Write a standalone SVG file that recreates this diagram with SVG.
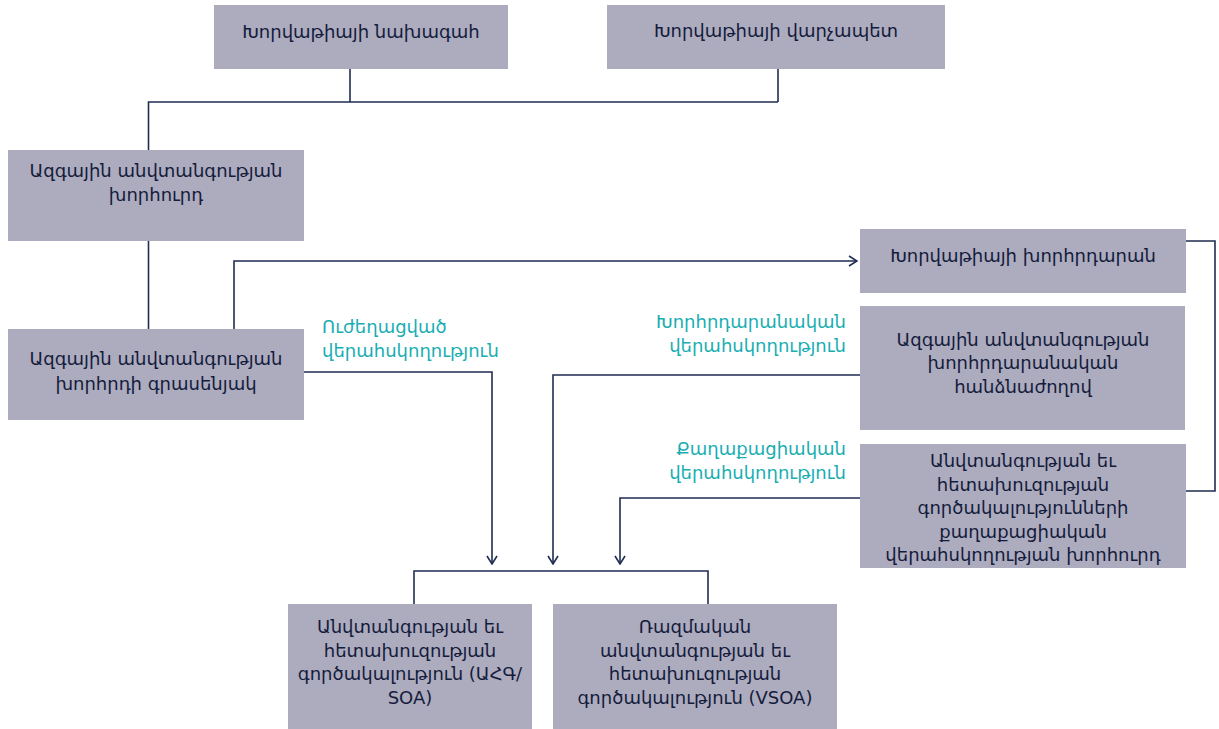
<svg xmlns="http://www.w3.org/2000/svg" width="1219" height="729" viewBox="0 0 1219 729">
<defs>
<style>
.box{fill:#adabbe}
.t{font-family:"DejaVu Sans","Noto Sans",sans-serif;font-size:18px;fill:#141c3c;text-anchor:middle}
.lbl{font-family:"DejaVu Sans","Noto Sans",sans-serif;font-size:18px;fill:#19aeb2}
.c{fill:none;stroke:#1f2d52;stroke-width:1.6}
</style>
<marker id="arr" viewBox="0 0 10 12" refX="9" refY="6" markerWidth="10" markerHeight="12" markerUnits="userSpaceOnUse" orient="auto">
<path d="M1,1 L9,6 L1,11" fill="none" stroke="#1f2d52" stroke-width="1.6"/>
</marker>
</defs>
<rect width="1219" height="729" fill="#ffffff"/>
<g id="connectors">
<path class="c" d="M350,69 V102"/>
<path class="c" d="M778,69 V102"/>
<path class="c" d="M148.5,150 V102 H778"/>
<path class="c" d="M148.5,241 V329"/>
<path class="c" d="M234,329 V261 H857" marker-end="url(#arr)"/>
<path class="c" d="M304,372 H492 V564" marker-end="url(#arr)"/>
<path class="c" d="M860,375 H553 V564" marker-end="url(#arr)"/>
<path class="c" d="M860,498 H620 V564" marker-end="url(#arr)"/>
<path class="c" d="M414,604 V571 H708 V604"/>
<path class="c" d="M1186,241 H1215 V491 H1186"/>
</g>
<g id="n1"><rect class="box" x="214" y="5" width="294" height="64"/><text class="t" x="361" y="38">Խորվաթիայի նախագահ</text></g>
<g id="n2"><rect class="box" x="607" y="5" width="338" height="64"/><text class="t" x="776" y="37">Խորվաթիայի վարչապետ</text></g>
<g id="n3"><rect class="box" x="8" y="150" width="296" height="91"/><text class="t" x="156" y="177">Ազգային անվտանգության</text><text class="t" x="156" y="201">խորհուրդ</text></g>
<g id="n4"><rect class="box" x="8" y="329" width="296" height="91"/><text class="t" x="156" y="365">Ազգային անվտանգության</text><text class="t" x="156" y="390">խորհրդի գրասենյակ</text></g>
<g id="n5"><rect class="box" x="860" y="229" width="326" height="64"/><text class="t" x="1023" y="262">Խորվաթիայի խորհրդարան</text></g>
<g id="n6"><rect class="box" x="860" y="306" width="325" height="124"/><text class="t" x="1023" y="346">Ազգային անվտանգության</text><text class="t" x="1023" y="369">խորհրդարանական</text><text class="t" x="1023" y="393">հանձնաժողով</text></g>
<g id="n7"><rect class="box" x="860" y="444" width="326" height="124"/><text class="t" x="1023" y="467">Անվտանգության եւ</text><text class="t" x="1023" y="491">հետախուզության</text><text class="t" x="1023" y="514">գործակալությունների</text><text class="t" x="1023" y="538">քաղաքացիական</text><text class="t" x="1023" y="561">վերահսկողության խորհուրդ</text></g>
<g id="n8"><rect class="box" x="288" y="604" width="244" height="125"/><text class="t" x="410" y="633">Անվտանգության եւ</text><text class="t" x="410" y="657">հետախուզության</text><text class="t" x="410" y="680">գործակալություն (ԱՀԳ/</text><text class="t" x="410" y="704">SOA)</text></g>
<g id="n9"><rect class="box" x="553" y="604" width="284" height="125"/><text class="t" x="695" y="633">Ռազմական</text><text class="t" x="695" y="657">անվտանգության եւ</text><text class="t" x="695" y="680">հետախուզության</text><text class="t" x="695" y="704">գործակալություն (VSOA)</text></g>
<g id="labels">
<text class="lbl" x="322" y="333">Ուժեղացված</text><text class="lbl" x="322" y="357">վերահսկողություն</text>
<text class="lbl" x="846" y="328" text-anchor="end">Խորհրդարանական</text><text class="lbl" x="846" y="352" text-anchor="end">վերահսկողություն</text>
<text class="lbl" x="846" y="455" text-anchor="end">Քաղաքացիական</text><text class="lbl" x="846" y="479" text-anchor="end">վերահսկողություն</text>
</g>
</svg>
